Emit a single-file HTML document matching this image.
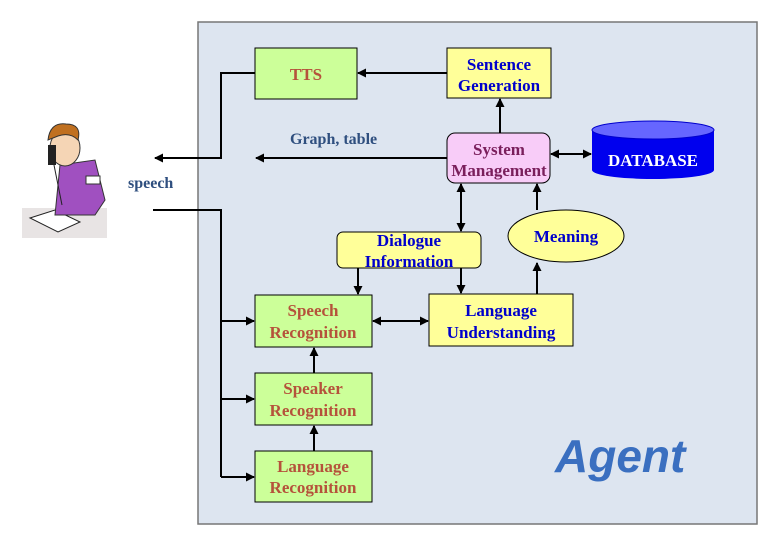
<!DOCTYPE html>
<html><head><meta charset="utf-8"><style>body{margin:0;background:#fff}svg{display:block}</style></head><body>
<svg width="780" height="540" viewBox="0 0 780 540" xmlns="http://www.w3.org/2000/svg" font-family="Liberation Serif, serif" font-weight="bold">
<defs><marker id="a" markerWidth="9" markerHeight="9" refX="8" refY="4.5" orient="auto-start-reverse" markerUnits="userSpaceOnUse"><path d="M0,0 L9,4.5 L0,9 z" fill="#000"/></marker></defs>
<rect x="198" y="22" width="559" height="502" fill="#dde5f0" stroke="#777" stroke-width="1.5"/>
<!-- person -->
<rect x="22" y="208" width="85" height="30" fill="#e8e4e4"/>
<polygon points="30,218 55,210 80,222 58,232" fill="#fff" stroke="#222"/>
<path d="M60,165 L95,160 L105,200 L95,215 L55,215 Z" fill="#a050c0" stroke="#333"/>
<ellipse cx="65" cy="148" rx="15" ry="18" fill="#f5d5b5" stroke="#333"/>
<path d="M48,140 Q50,122 66,124 Q82,124 78,140 Q70,132 58,136 Z" fill="#c07020" stroke="#333"/>
<rect x="48" y="145" width="8" height="20" fill="#222"/>
<rect x="86" y="176" width="14" height="8" fill="#fff" stroke="#333"/>
<line x1="54" y1="165" x2="62" y2="205" stroke="#222"/>
<g stroke="#000" stroke-width="2" fill="none">
<polyline points="255,73 221,73 221,158 155,158" marker-end="url(#a)"/>
<line x1="447" y1="158" x2="256" y2="158" marker-end="url(#a)"/>
<polyline points="153,210 221,210 221,477"/>
<line x1="221" y1="321" x2="254" y2="321" marker-end="url(#a)"/>
<line x1="221" y1="399" x2="254" y2="399" marker-end="url(#a)"/>
<line x1="221" y1="477" x2="254" y2="477" marker-end="url(#a)"/>
<line x1="447" y1="73" x2="358" y2="73" marker-end="url(#a)"/>
<line x1="500" y1="133" x2="500" y2="99" marker-end="url(#a)"/>
<line x1="551" y1="154" x2="591" y2="154" marker-start="url(#a)" marker-end="url(#a)"/>
<line x1="461" y1="184" x2="461" y2="231" marker-start="url(#a)" marker-end="url(#a)"/>
<line x1="537" y1="210" x2="537" y2="184" marker-end="url(#a)"/>
<line x1="537" y1="294" x2="537" y2="263" marker-end="url(#a)"/>
<line x1="358" y1="268" x2="358" y2="294" marker-end="url(#a)"/>
<line x1="461" y1="268" x2="461" y2="293" marker-end="url(#a)"/>
<line x1="373" y1="321" x2="428" y2="321" marker-start="url(#a)" marker-end="url(#a)"/>
<line x1="314" y1="373" x2="314" y2="348" marker-end="url(#a)"/>
<line x1="314" y1="451" x2="314" y2="426" marker-end="url(#a)"/>
</g>
<g stroke="#000" stroke-width="1">
<rect x="255" y="48" width="102" height="51" fill="#ccff99"/>
<rect x="447" y="48" width="104" height="50" fill="#ffff99"/>
<rect x="447" y="133" width="103" height="50" rx="8" fill="#f8ccf8"/>
<rect x="337" y="232" width="144" height="36" rx="6" fill="#ffff99"/>
<ellipse cx="566" cy="236" rx="58" ry="26" fill="#ffff99"/>
<rect x="255" y="295" width="117" height="52" fill="#ccff99"/>
<rect x="429" y="294" width="144" height="52" fill="#ffff99"/>
<rect x="255" y="373" width="117" height="52" fill="#ccff99"/>
<rect x="255" y="451" width="117" height="51" fill="#ccff99"/>
</g>
<path d="M592,130 L592,170 A61,9 0 0 0 714,170 L714,130 Z" fill="#0000ee"/>
<ellipse cx="653" cy="130" rx="61" ry="9" fill="#6666ff" stroke="#0000cc"/>
<g font-size="17" text-anchor="middle">
<text x="306" y="80" fill="#b5523b">TTS</text>
<text x="499" y="70" fill="#0000cc">Sentence</text><text x="499" y="91" fill="#0000cc">Generation</text>
<text x="499" y="155" fill="#7a1f5c">System</text><text x="499" y="176" fill="#7a1f5c">Management</text>
<text x="653" y="166" fill="#fff">DATABASE</text>
<text x="409" y="246" fill="#0000cc">Dialogue</text><text x="409" y="267" fill="#0000cc">Information</text>
<text x="566" y="242" fill="#0000cc">Meaning</text>
<text x="313" y="316" fill="#b5523b">Speech</text><text x="313" y="338" fill="#b5523b">Recognition</text>
<text x="501" y="316" fill="#0000cc">Language</text><text x="501" y="338" fill="#0000cc">Understanding</text>
<text x="313" y="394" fill="#b5523b">Speaker</text><text x="313" y="416" fill="#b5523b">Recognition</text>
<text x="313" y="472" fill="#b5523b">Language</text><text x="313" y="493" fill="#b5523b">Recognition</text>
</g>
<text x="290" y="144" font-size="16" fill="#2f4f7f">Graph, table</text>
<text x="128" y="188" font-size="16" fill="#2f4f7f">speech</text>
<text x="555" y="472" font-size="46" font-style="italic" font-family="Liberation Sans, sans-serif" fill="#3a6fc0">Agent</text>
</svg>
</body></html>
